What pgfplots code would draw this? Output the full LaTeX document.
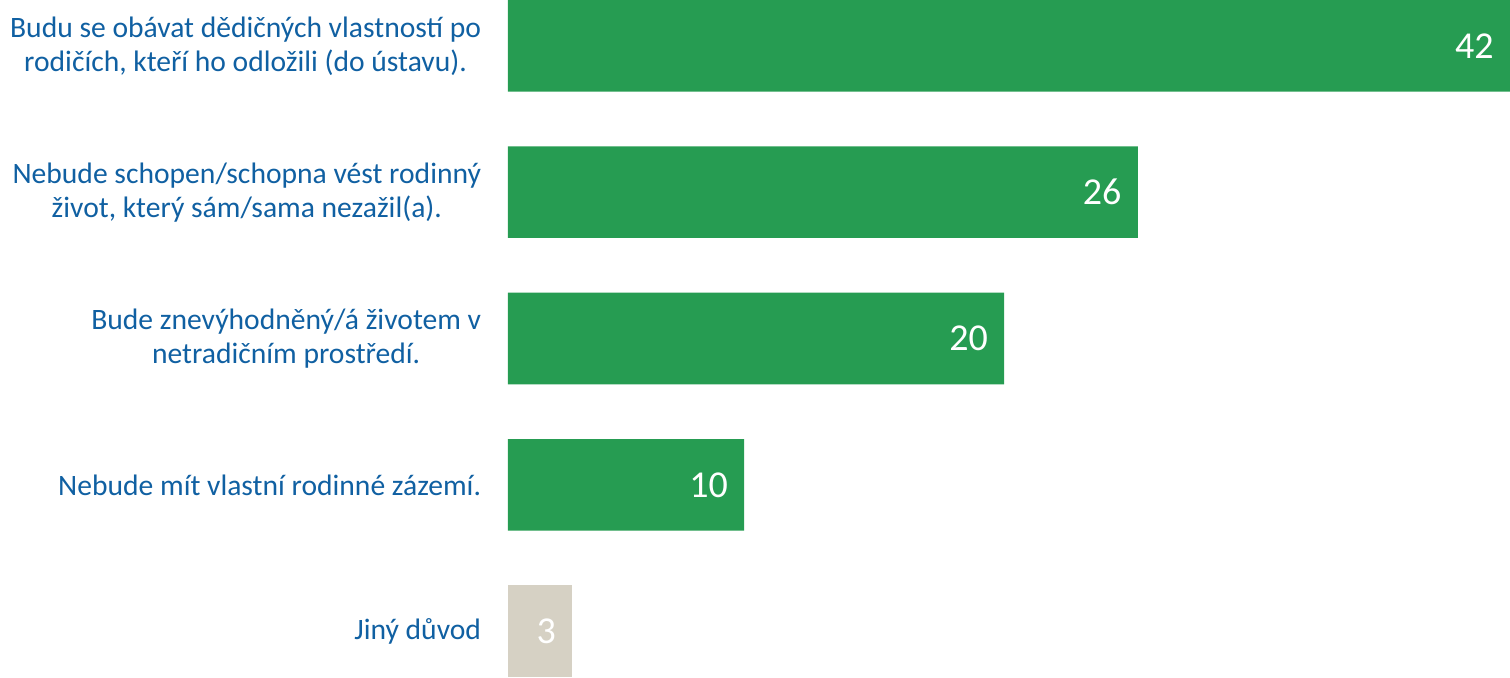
\documentclass[border=0pt]{standalone}
\usepackage{fontspec}
\setmainfont{Carlito}
\usepackage{pgfplots}
\pgfplotsset{compat=1.18}
\definecolor{barGreen}{RGB}{38,156,82}
\definecolor{barGray}{RGB}{214,209,196}
\definecolor{labBlue}{RGB}{16,96,162}
\begin{document}
\begin{tikzpicture}
\begin{axis}[
  scale only axis,
  width=501pt, height=338.5pt,
  xbar, bar shift=0pt, bar width=0.626,
  xmin=0, xmax=42,
  ymin=-0.313, ymax=4.313,
  y dir=reverse,
  axis line style={draw=none},
  tick style={draw=none},
  xtick=\empty,
  ytick={0,1,2,3,4},
  yticklabels={{Budu se obávat dědičných vlastností po\\rodičích, kteří ho odložili (do ústavu).},
               {Nebude schopen/schopna vést rodinný\\život, který sám/sama nezažil(a).},
               {Bude znevýhodněný/á životem v\\netradičním prostředí.},
               {Nebude mít vlastní rodinné zázemí.},
               {Jiný důvod}},
  yticklabel style={align=center, inner sep=0pt, xshift=-9pt, text=labBlue,
                    font=\fontsize{14.8}{17}\selectfont},
  point meta=explicit symbolic,
  nodes near coords,
  every node near coord/.append style={anchor=east, xshift=-8pt, inner sep=0pt,
     text=white, font=\fontsize{19}{22}\selectfont},
]
\addplot[fill=barGreen, draw=none] coordinates {(42,0) [42] (26.4,1) [26] (20.8,2) [20] (9.9,3) [10]};
\addplot[fill=barGray, draw=none] coordinates {(2.7,4) [3]};
\end{axis}
\pgfresetboundingbox
\useasboundingbox (current axis.south west) ++(-254pt,0) rectangle (current axis.north east);
\end{tikzpicture}
\end{document}
